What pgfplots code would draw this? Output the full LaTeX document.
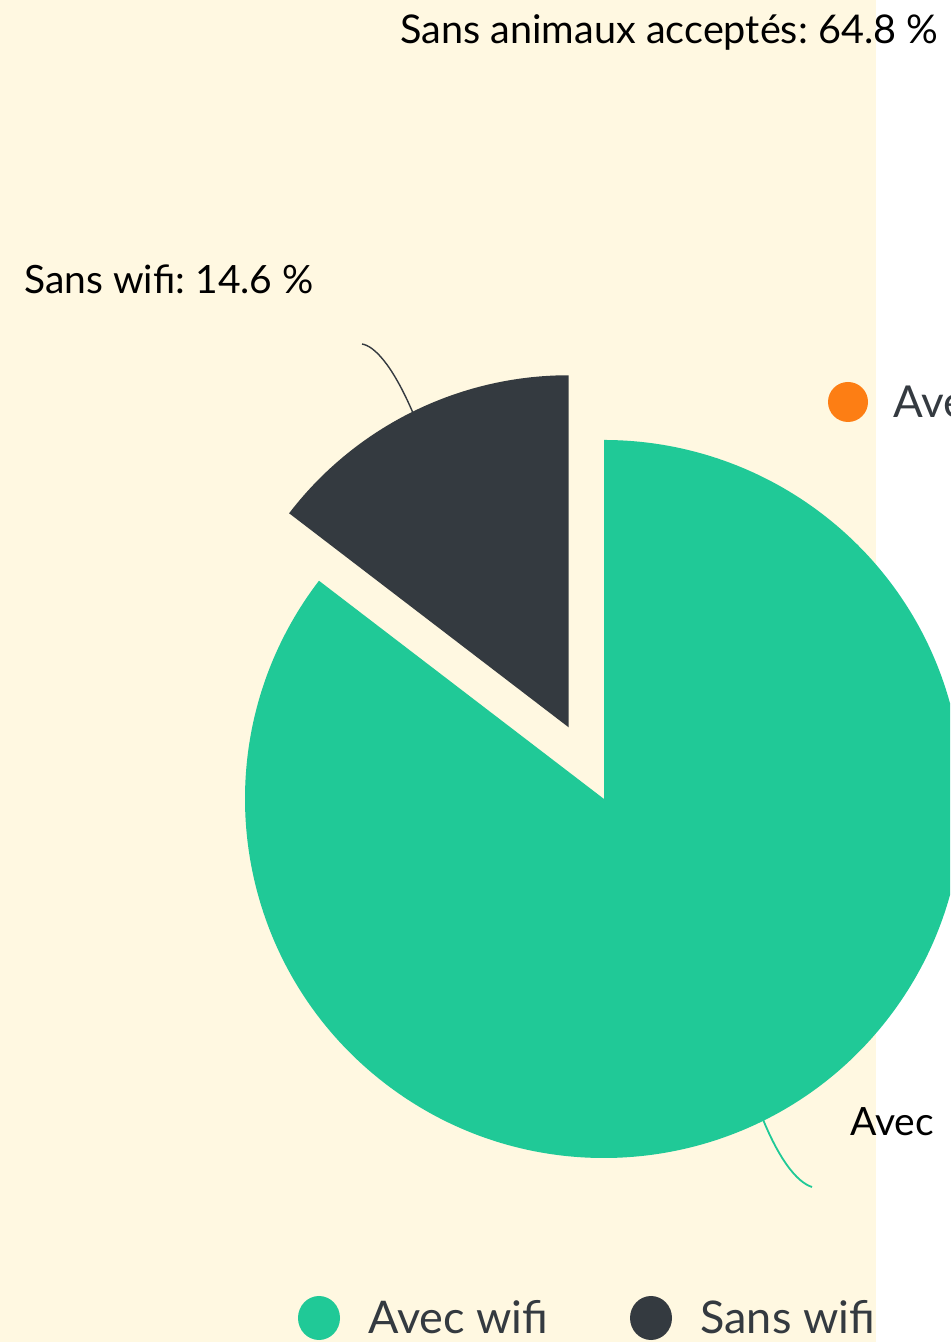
\documentclass[border=0pt]{standalone}
\usepackage{fontspec}
\setmainfont{Lato}
\usepackage{pgfplots}
\usepackage{pgfplotstable}
\pgfplotsset{compat=1.18}
\definecolor{creme}{HTML}{FFF8E1}
\definecolor{avec}{HTML}{20C997}
\definecolor{sans}{HTML}{343A40}
\definecolor{orangeb}{HTML}{FD7E14}
\definecolor{txt}{HTML}{343A40}
\frenchspacing

\pgfplotstableread{
label value
Avec 85.4
Sans 14.6
}\piedata

\begin{document}
\begin{tikzpicture}
\pgfplotstablegetelem{1}{value}\of\piedata
\pgfmathsetmacro{\sansend}{90+3.6*\pgfplotsretval}
\pgfmathsetmacro{\sansmid}{90+1.8*\pgfplotsretval}
\begin{axis}[
    x=0.5pt, y=0.5pt,
    xmin=0, xmax=950, ymin=0, ymax=1342,
    hide axis, clip=false,
    at={(0,0)}, anchor=south west,
]
\clip (axis cs:0,0) rectangle (axis cs:950,1342);
\fill[creme] (axis cs:0,0) rectangle (axis cs:876,1342);
% pie: Avec wifi
\fill[avec] (axis cs:604,543) -- ++(\sansend:179.5pt)
    arc[start angle=\sansend, end angle=450, radius=179.5pt] -- cycle;
% pie: Sans wifi (exploded)
\fill[sans, shift={(\sansmid:40pt)}] (axis cs:604,543) -- ++(90:176pt)
    arc[start angle=90, end angle=\sansend, radius=176pt] -- cycle;
% leader lines
\draw[sans, line width=0.7pt] (axis cs:362,998) .. controls (axis cs:374,996) and (axis cs:392,978) .. (axis cs:413,929);
\draw[avec, line width=0.9pt] (axis cs:762,225) .. controls (axis cs:778,185) and (axis cs:796,160) .. (axis cs:812,155);
% labels
\node[anchor=base west, inner sep=0pt, font=\fontsize{19.8}{21}\selectfont] at (axis cs:400,1298) {Sans animaux acceptés: 64.8 \%};
\node[anchor=base west, inner sep=0pt, font=\fontsize{19.5}{21}\selectfont] at (axis cs:24,1048) {Sans wifi: 14.6 \%};
\node[anchor=base west, inner sep=0pt, font=\fontsize{19.5}{21}\selectfont] at (axis cs:850,206) {Avec};
% other legend fragment
\fill[orangeb] (axis cs:848,940) circle[radius=10pt];
\node[anchor=west, inner sep=0pt, text=txt, font=\fontsize{22}{24}\selectfont] at (axis cs:893,940) {Avec};
% legend
\fill[avec] (axis cs:319,24) circle[x radius=10.5pt, y radius=11pt];
\node[anchor=base west, inner sep=0pt, text=txt, font=\fontsize{22.5}{24}\selectfont] at (axis cs:368,9) {Avec wifi};
\fill[sans] (axis cs:651,24) circle[x radius=10.5pt, y radius=11pt];
\node[anchor=base west, inner sep=0pt, text=txt, font=\fontsize{22.5}{24}\selectfont] at (axis cs:700,9) {Sans wifi};
\end{axis}
\pgfresetboundingbox
\path (0,0) rectangle (475pt,671pt);
\end{tikzpicture}
\end{document}
